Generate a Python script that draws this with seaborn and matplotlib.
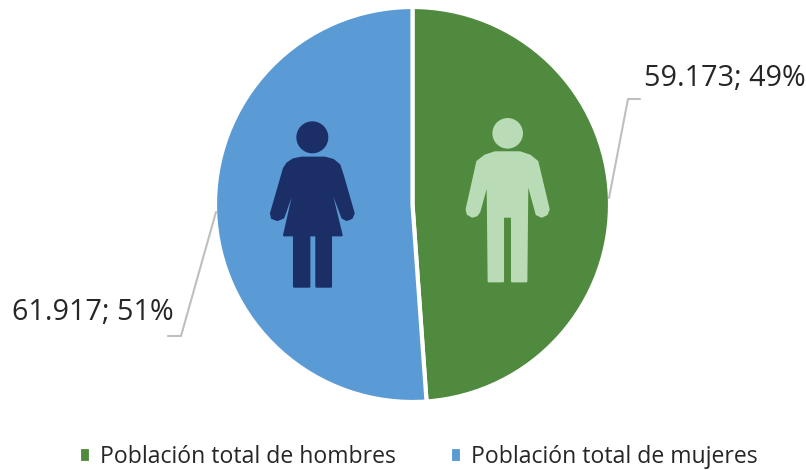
import matplotlib
matplotlib.use('Agg')
import matplotlib.pyplot as plt
from matplotlib.patches import Circle, Polygon
import seaborn as sns

categories = ["Población total de hombres", "Población total de mujeres"]
values = [59173, 61917]
percents = [49, 51]
colors = ["#4f8a3e", "#5b9bd5"]

W, H = 806, 470

sns.set_theme(style="white")
plt.rcParams['font.family'] = ['Open Sans', 'DejaVu Sans']


def flip(points, x0, y0):
    # zoomed crop coordinates to figure pixels (y up)
    return [(x0 + px / 3, H - (y0 + py / 3)) for px, py in points]


fig = plt.figure(figsize=(W / 100, H / 100), dpi=100)
ax = fig.add_axes([0, 0, 1, 1])

wedges, _ = ax.pie(values, colors=colors, startangle=90, counterclock=False,
                   center=(412.5, H - 204.5), radius=197.5, frame=True,
                   wedgeprops={'edgecolor': 'white', 'linewidth': 3})
ax.set_xlim(0, W)
ax.set_ylim(0, H)
ax.axis('off')

# figures inside the slices
woman = [(155, 143), (225, 143), (250, 150), (268, 165), (278, 195), (311, 310), (305, 324), (290, 330),
         (277, 323), (235, 210), (275, 376), (243, 376), (243, 530), (199, 530), (199, 376),
         (178, 376), (178, 530), (132, 530), (132, 376), (102, 376), (140, 210), (100, 323),
         (82, 330), (66, 324), (63, 310), (102, 175), (112, 160), (130, 148)]
ax.add_patch(Polygon(flip(woman, 250, 110), closed=True, facecolor="#1b2f66", edgecolor="#1b2f66",
                     lw=1.5, joinstyle='round'))
ax.add_patch(Circle((250 + 187 / 3, H - (110 + 82 / 3)), 16, color="#1b2f66", lw=0))

man = [(135, 127), (210, 127), (240, 137), (262, 155), (268, 180), (296, 298), (290, 313), (275, 320),
       (260, 313), (232, 210), (229, 514), (186, 514), (186, 320), (159, 320), (159, 514), (116, 514),
       (113, 215), (88, 305), (80, 316), (67, 320), (53, 312), (50, 298), (82, 155), (105, 137)]
ax.add_patch(Polygon(flip(man, 450, 110), closed=True, facecolor="#b9dcb6", edgecolor="#b9dcb6",
                     lw=1.5, joinstyle='round'))
ax.add_patch(Circle((450 + 173 / 3, H - (110 + 70 / 3)), 15.3, color="#b9dcb6", lw=0))

# leader lines and labels
ax.plot([609, 628, 640], [H - 198, H - 99, H - 99], color="#bfbfbf", lw=1.5)
ax.plot([216, 181, 168], [H - 212, H - 336, H - 336], color="#bfbfbf", lw=1.5)

labels = [f"{v:,}".replace(",", ".") + f"; {p}%" for v, p in zip(values, percents)]
ax.text(644, H - 78, labels[0], fontsize=20.7, color="#262626", va='center', ha='left')
ax.text(12, H - 313, labels[1], fontsize=20.7, color="#262626", va='center', ha='left')

ax.legend(wedges, categories, ncol=2, frameon=False, loc='center', bbox_to_anchor=(418.5 / W, 1 - 457 / H),
          fontsize=16.6, handlelength=0.5, handleheight=0.75, handletextpad=0.4, columnspacing=2.35,
          labelcolor="#262626", borderpad=0, borderaxespad=0)

fig.savefig("out.png", dpi=100)
